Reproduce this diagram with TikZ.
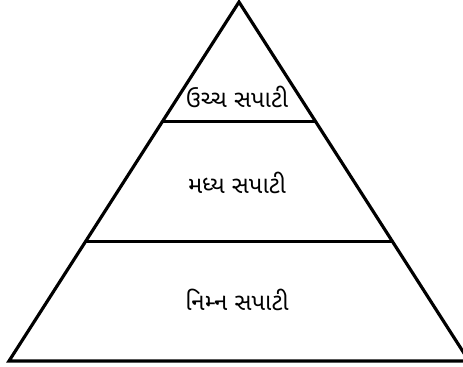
\documentclass[tikz,border=0pt]{standalone}
\usepackage{fontspec}
\newfontfamily\gujfont[Script=Gujarati]{Noto Sans Gujarati UI}
\usetikzlibrary{calc}

\begin{document}
\begin{tikzpicture}[
        x=0.02cm, y=-0.02cm,
        line width=1.8pt,
        level/.style={
            font=\gujfont\fontsize{13.6}{16}\selectfont,
            inner sep=0pt
        }
    ]
    \useasboundingbox (0,0) rectangle (463,367);
    \clip (0,0) rectangle (463,367);

    \coordinate (apex) at (239,2);
    \coordinate (left) at (9,361);
    \coordinate (right) at (469,361);

    \coordinate (upperL) at ($(apex)!1/3!(left)$);
    \coordinate (upperR) at ($(apex)!1/3!(right)$);
    \coordinate (middleL) at ($(apex)!2/3!(left)$);
    \coordinate (middleR) at ($(apex)!2/3!(right)$);

    \draw (left) -- (apex) -- (right) -- cycle;
    \draw (upperL) -- (upperR);
    \draw (middleL) -- (middleR);

    \node[level] (upper) at (237,97) {ઉચ્ચ સપાટી};
    \node[level] (middle) at (237,183) {મધ્ય સપાટી};
    \node[level] (lower) at (237,300) {નિમ્ન સપાટી};

\end{tikzpicture}
\end{document}
